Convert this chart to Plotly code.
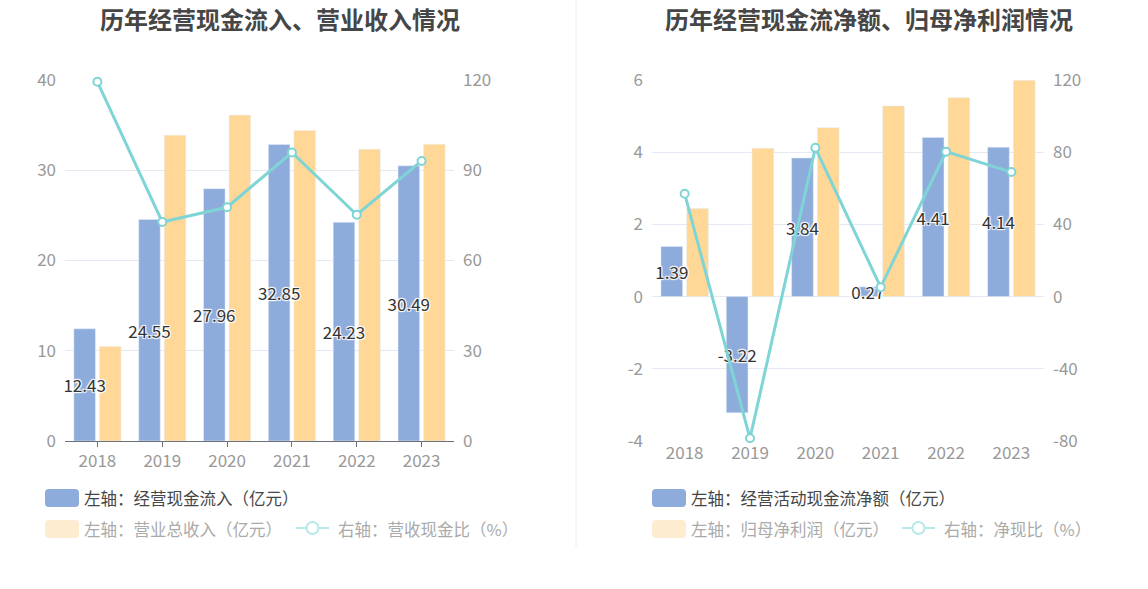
import plotly.graph_objects as go

# values
years = ["2018", "2019", "2020", "2021", "2022", "2023"]
cash_inflow = [12.43, 24.55, 27.96, 32.85, 24.23, 30.49]
revenue = [10.48, 33.89, 36.11, 34.41, 32.33, 32.89]
cash_ratio = [119.4, 72.8, 77.7, 95.9, 75.2, 93.1]

net_cash = [1.39, -3.22, 3.84, 0.27, 4.41, 4.14]
net_profit = [2.44, 4.11, 4.68, 5.28, 5.51, 5.99]
net_ratio = [57.0, -78.5, 82.4, 5.2, 80.3, 69.0]

left_ticks_a = [0, 10, 20, 30, 40]
right_ticks_a = [0, 30, 60, 90, 120]
left_ticks_b = [-4, -2, 0, 2, 4, 6]
right_ticks_b = [-80, -40, 0, 40, 80, 120]

BLUE = "#8eacdb"
YELLOW = "#ffd796"
TEAL = "#7fd4d6"
FADE_YELLOW = "#feecd0"
FADE_TEAL = "#b8e8e9"
FONT = "Noto Sans CJK SC, Microsoft YaHei, sans-serif"

W, H = 1148, 589
L, R, T, B = 65, 104, 80, 148
PW, PH = W - L - R, H - T - B

# bar geometry in category units (bars ~21.5px, gap ~4px on a ~65px band)
BAR_W = 0.332
BAR_GAP = 0.062
OFF_A = -(2 * BAR_W + BAR_GAP) / 2
OFF_B = OFF_A + BAR_W + BAR_GAP


def px(x):
    return (x - L) / PW


def py(y):
    return (H - B - y) / PH


shadow = "1px 1px 1px #fff, -1px -1px 1px #fff, 1px -1px 1px #fff, -1px 1px 1px #fff"
label_font = dict(size=17, color="#333", family=FONT, shadow=shadow)

fig = go.Figure()


def add_pair(xa, ya, ya2, blue_vals, yellow_vals, line_vals):
    # yellow first so the blue bar labels sit on top of it
    fig.add_trace(go.Bar(x=years, y=yellow_vals, marker_color=YELLOW, xaxis=xa, yaxis=ya,
                         width=BAR_W, offset=OFF_B, showlegend=False))
    fig.add_trace(go.Bar(x=years, y=blue_vals, marker_color=BLUE, xaxis=xa, yaxis=ya,
                         width=BAR_W, offset=OFF_A,
                         text=[f"{v:.2f}" for v in blue_vals], texttemplate="%{text}",
                         textposition="inside", insidetextanchor="middle",
                         constraintext="none", textangle=0,
                         textfont=label_font, cliponaxis=False, showlegend=False))
    fig.add_trace(go.Scatter(x=years, y=line_vals, xaxis=xa, yaxis=ya2, mode="lines+markers",
                             line=dict(color=TEAL, width=3),
                             marker=dict(size=8, color="white", line=dict(color=TEAL, width=2)),
                             cliponaxis=False, showlegend=False))


add_pair("x", "y", "y2", cash_inflow, revenue, cash_ratio)
add_pair("x2", "y3", "y4", net_cash, net_profit, net_ratio)

tick_font = dict(size=17, color="#999", family=FONT)
grid = "#e6e9f4"
axis_line = "#6e7079"

x_common = dict(type="category", tickfont=tick_font, showgrid=False, zeroline=False)
y_common = dict(tickfont=tick_font, zeroline=False, showline=False, ticks="",
                ticklabelstandoff=8)


def ticks(vals):
    return dict(tickmode="array", tickvals=vals, ticktext=[str(v) for v in vals])


shapes = []
annotations = []

# titles
for cx, title in [(280, "历年经营现金流入、营业收入情况"), (869, "历年经营现金流净额、归母净利润情况")]:
    annotations.append(dict(x=px(cx), y=py(18), xref="paper", yref="paper", text=title,
                            showarrow=False, xanchor="center", yanchor="middle",
                            font=dict(size=24, color="#464646", family=FONT, weight="bold")))

# divider
shapes.append(dict(type="line", xref="paper", yref="paper", x0=px(576), x1=px(576),
                   y0=py(0), y1=py(548), line=dict(color="#f0f0f0", width=1)))


def rounded_rect(x0, y0, x1, y1, r, color):
    # path in paper coords, corner radius r in pixels
    rx, ry = r / PW, r / PH
    a0, a1, b0, b1 = px(x0), px(x1), py(y1), py(y0)
    path = (f"M{a0 + rx},{b0} L{a1 - rx},{b0} Q{a1},{b0} {a1},{b0 + ry} "
            f"L{a1},{b1 - ry} Q{a1},{b1} {a1 - rx},{b1} L{a0 + rx},{b1} "
            f"Q{a0},{b1} {a0},{b1 - ry} L{a0},{b0 + ry} Q{a0},{b0} {a0 + rx},{b0} Z")
    return dict(type="path", xref="paper", yref="paper", path=path,
                fillcolor=color, line=dict(width=0))


def legend_text(x, y, text, color):
    return dict(x=px(x), y=py(y), xref="paper", yref="paper", text=text, showarrow=False,
                xanchor="left", yanchor="middle",
                font=dict(size=16.5, color=color, family=FONT))


def line_icon(x0, x1, y):
    cx = (x0 + x1) / 2
    return [
        dict(type="line", xref="paper", yref="paper", x0=px(x0), x1=px(x1), y0=py(y), y1=py(y),
             line=dict(color=FADE_TEAL, width=2)),
        dict(type="circle", xref="paper", yref="paper", x0=px(cx - 6), x1=px(cx + 6),
             y0=py(y + 6), y1=py(y - 6), fillcolor="white", line=dict(color=FADE_TEAL, width=2)),
    ]


legends = [
    (45, "左轴：经营现金流入（亿元）", "左轴：营业总收入（亿元）", 296, "右轴：营收现金比（%）"),
    (652, "左轴：经营活动现金流净额（亿元）", "左轴：归母净利润（亿元）", 902, "右轴：净现比（%）"),
]
for lx, t1, t2, ix, t3 in legends:
    shapes.append(rounded_rect(lx, 489, lx + 34, 507, 4, BLUE))
    annotations.append(legend_text(lx + 37, 498, t1, "#464646"))
    shapes.append(rounded_rect(lx, 520, lx + 34, 538, 4, FADE_YELLOW))
    annotations.append(legend_text(lx + 37, 529, t2, "#aaaaaa"))
    shapes.extend(line_icon(ix, ix + 33, 528))
    annotations.append(legend_text(ix + 40, 529, t3, "#aaaaaa"))

fig.update_layout(
    width=W, height=H,
    margin=dict(l=L, r=R, t=T, b=B),
    paper_bgcolor="white", plot_bgcolor="white",
    barmode="overlay",
    font=dict(family=FONT),
    xaxis=dict(domain=[0, px(454)], anchor="y", showline=True, linecolor=axis_line,
               ticks="outside", ticklen=5, tickcolor=axis_line, **x_common),
    yaxis=dict(anchor="x", range=[0, 40], showgrid=True, gridcolor=grid,
               **ticks(left_ticks_a), **y_common),
    yaxis2=dict(anchor="x", overlaying="y", side="right", range=[0, 120],
                showgrid=False, **ticks(right_ticks_a), **y_common),
    xaxis2=dict(domain=[px(652), 1], anchor="y3", showline=False, ticks="", **x_common),
    yaxis3=dict(anchor="x2", range=[-4, 6], showgrid=True, gridcolor=grid,
                **ticks(left_ticks_b), **y_common),
    yaxis4=dict(anchor="x2", overlaying="y3", side="right", range=[-80, 120],
                showgrid=False, **ticks(right_ticks_b), **y_common),
    xaxis3=dict(overlaying="x2", anchor="free", position=0.4, range=[-0.5, 5.5],
                tickvals=[0, 1, 2, 3, 4, 5], showticklabels=False, showline=True,
                linecolor=axis_line, ticks="outside", ticklen=5, tickcolor=axis_line,
                showgrid=False, zeroline=False),
    shapes=shapes,
    annotations=annotations,
    showlegend=False,
)

fig.write_html("out.html", config={"displayModeBar": False},
               post_script="document.body.style.margin='0';")
